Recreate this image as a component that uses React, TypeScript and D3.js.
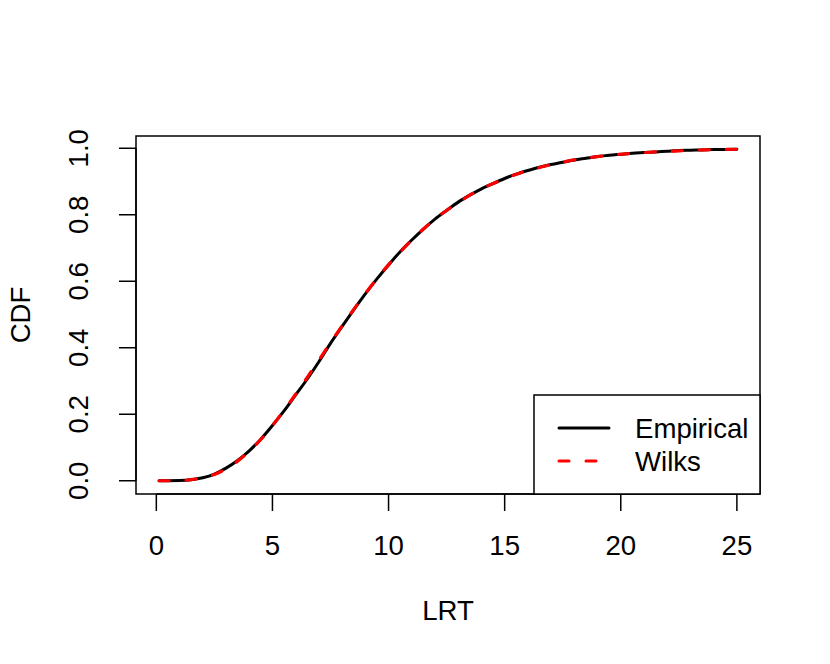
import React, { useEffect, useRef } from "react";
import * as d3 from "d3";

// LRT grid
const lrt = [
  0.12, 0.5, 1, 1.5, 2, 2.5, 3, 3.5, 4, 4.5, 5, 5.5, 6, 6.5, 7, 7.5, 8, 8.5, 9, 9.5,
  10, 10.5, 11, 11.5, 12, 12.5, 13, 13.5, 14, 14.5, 15, 15.5, 16, 16.5, 17, 17.5,
  18, 18.5, 19, 19.5, 20, 20.5, 21, 21.5, 22, 22.5, 23, 23.5, 24, 24.5, 25,
];

const empirical = [
  0.0, 0.0, 0.0005, 0.003, 0.009, 0.02, 0.038, 0.061, 0.09, 0.125, 0.166, 0.21, 0.258,
  0.306, 0.358, 0.413, 0.464, 0.514, 0.562, 0.607, 0.649, 0.689, 0.724, 0.757, 0.787,
  0.813, 0.838, 0.859, 0.878, 0.894, 0.909, 0.922, 0.933, 0.943, 0.951, 0.958, 0.965,
  0.97, 0.975, 0.979, 0.982, 0.985, 0.987, 0.989, 0.991, 0.993, 0.994, 0.995, 0.996,
  0.9965, 0.997,
];

const wilks = [
  0.0, 0.00001, 0.0003, 0.0032, 0.0088, 0.019, 0.0357, 0.059, 0.089, 0.124, 0.166,
  0.212, 0.26, 0.311, 0.363, 0.415, 0.466, 0.515, 0.563, 0.608, 0.65, 0.688, 0.724,
  0.757, 0.787, 0.813, 0.837, 0.859, 0.878, 0.894, 0.909, 0.922, 0.933, 0.942, 0.951,
  0.958, 0.965, 0.97, 0.975, 0.979, 0.982, 0.985, 0.987, 0.989, 0.991, 0.992, 0.994,
  0.995, 0.9958, 0.9965, 0.997,
];

const legendLabels = ["Empirical", "Wilks"];
const xTicks = [0, 5, 10, 15, 20, 25];
const yTicks = [0, 0.2, 0.4, 0.6, 0.8, 1.0];

const W = 830;
const H = 664;
const box = { left: 136, right: 760, top: 136, bottom: 494 };
const FONT = "'Liberation Sans', Arial, Helvetica, sans-serif";
const FS = 27.6;

// R style 4% axis extension
function rRange(vals: number[]): [number, number] {
  const [lo, hi] = d3.extent(vals) as [number, number];
  const pad = (hi - lo) * 0.04;
  return [lo - pad, hi + pad];
}

export default function App() {
  const ref = useRef<SVGSVGElement>(null);

  useEffect(() => {
    const svg = d3.select(ref.current);
    svg.selectAll("*").remove();

    const x = d3.scaleLinear().domain(rRange(lrt)).range([box.left, box.right]);
    const y = d3
      .scaleLinear()
      .domain(rRange(empirical.concat(wilks)))
      .range([box.bottom, box.top]);

    svg.append("rect").attr("width", W).attr("height", H).attr("fill", "white");

    const line = d3
      .line<number>()
      .x((d, i) => x(lrt[i]))
      .y((d) => y(d))
      .curve(d3.curveMonotoneX);

    svg
      .append("path")
      .attr("d", line(empirical))
      .attr("fill", "none")
      .attr("stroke", "black")
      .attr("stroke-width", 3)
      .attr("stroke-linejoin", "round")
      .attr("stroke-linecap", "round");

    svg
      .append("path")
      .attr("d", line(wilks))
      .attr("fill", "none")
      .attr("stroke", "red")
      .attr("stroke-width", 3.2)
      .attr("stroke-dasharray", "10 17")
      .attr("stroke-linecap", "round");

    // box
    svg
      .append("rect")
      .attr("x", box.left)
      .attr("y", box.top)
      .attr("width", box.right - box.left)
      .attr("height", box.bottom - box.top)
      .attr("fill", "none")
      .attr("stroke", "black")
      .attr("stroke-width", 1.5);

    // x axis
    const gx = svg.append("g").attr("font-family", FONT).attr("font-size", FS);
    gx.append("line")
      .attr("x1", x(xTicks[0]))
      .attr("x2", x(xTicks[xTicks.length - 1]))
      .attr("y1", box.bottom)
      .attr("y2", box.bottom)
      .attr("stroke", "black")
      .attr("stroke-width", 1.5);
    xTicks.forEach((t) => {
      gx.append("line")
        .attr("x1", x(t))
        .attr("x2", x(t))
        .attr("y1", box.bottom)
        .attr("y2", box.bottom + 17)
        .attr("stroke", "black")
        .attr("stroke-width", 1.5);
      gx.append("text")
        .attr("x", x(t))
        .attr("y", 555)
        .attr("text-anchor", "middle")
        .text(d3.format("d")(t));
    });

    // y axis
    const gy = svg.append("g").attr("font-family", FONT).attr("font-size", FS);
    gy.append("line")
      .attr("x1", box.left)
      .attr("x2", box.left)
      .attr("y1", y(yTicks[0]))
      .attr("y2", y(yTicks[yTicks.length - 1]))
      .attr("stroke", "black")
      .attr("stroke-width", 1.5);
    yTicks.forEach((t) => {
      gy.append("line")
        .attr("x1", box.left - 17)
        .attr("x2", box.left)
        .attr("y1", y(t))
        .attr("y2", y(t))
        .attr("stroke", "black")
        .attr("stroke-width", 1.5);
      gy.append("text")
        .attr("transform", `translate(88,${y(t)}) rotate(-90)`)
        .attr("text-anchor", "middle")
        .text(d3.format(".1f")(t));
    });

    // axis titles
    svg
      .append("text")
      .attr("x", (box.left + box.right) / 2)
      .attr("y", 620)
      .attr("text-anchor", "middle")
      .attr("font-family", FONT)
      .attr("font-size", FS)
      .text("LRT");
    svg
      .append("text")
      .attr("transform", `translate(30,${(box.top + box.bottom) / 2}) rotate(-90)`)
      .attr("text-anchor", "middle")
      .attr("font-family", FONT)
      .attr("font-size", FS)
      .text("CDF");

    // legend
    const lg = svg.append("g").attr("font-family", FONT).attr("font-size", FS);
    lg.append("rect")
      .attr("x", 534)
      .attr("y", 395)
      .attr("width", box.right - 534)
      .attr("height", box.bottom - 395)
      .attr("fill", "white")
      .attr("stroke", "black")
      .attr("stroke-width", 1.5);
    legendLabels.forEach((lab, i) => {
      const ly = 428 + i * 33;
      lg.append("line")
        .attr("x1", 559)
        .attr("x2", 609)
        .attr("y1", ly)
        .attr("y2", ly)
        .attr("stroke", i === 0 ? "black" : "red")
        .attr("stroke-width", 3)
        .attr("stroke-linecap", "round")
        .attr("stroke-dasharray", i === 0 ? null : "10 17");
      lg.append("text")
        .attr("x", 635)
        .attr("y", ly + 10)
        .text(lab);
    });
  }, []);

  return (
    <svg
      ref={ref}
      width={W}
      height={H}
      style={{ position: "absolute", left: 0, top: 0, display: "block" }}
    />
  );
}
